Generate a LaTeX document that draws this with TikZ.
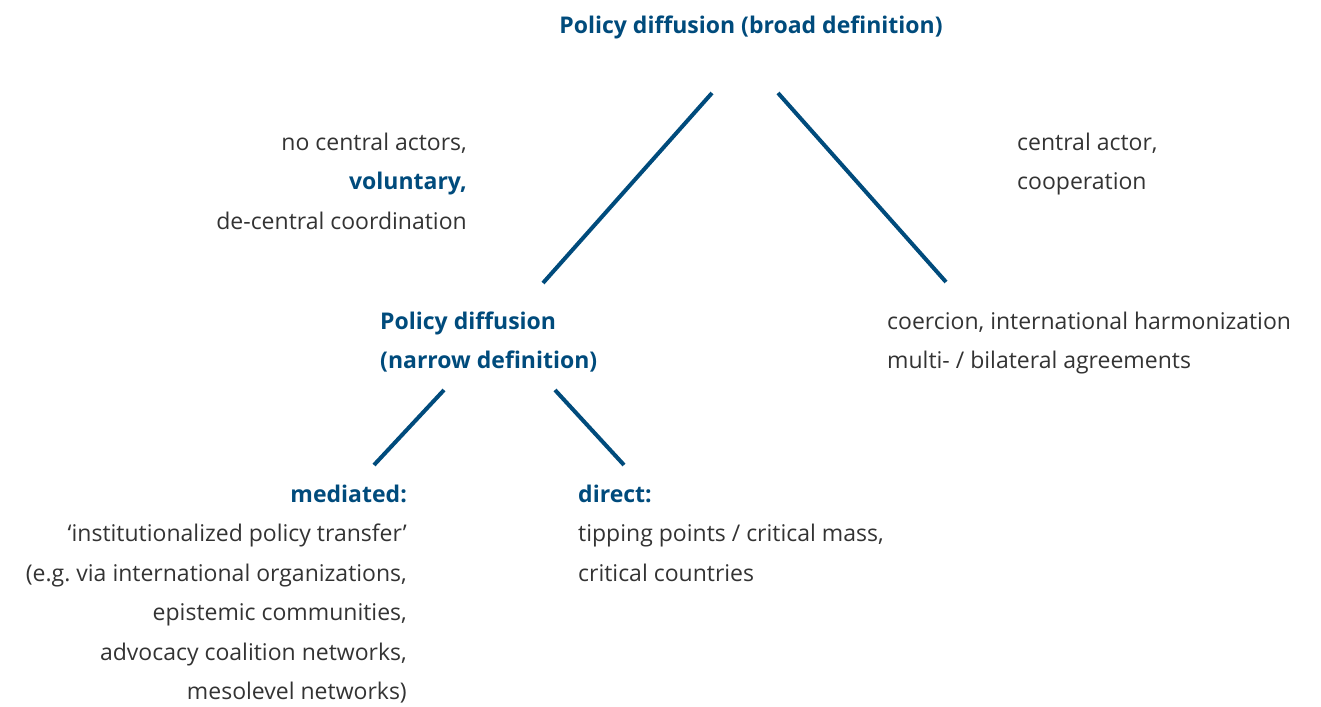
\documentclass[tikz,border=0pt]{standalone}
\usepackage{fontspec}
\setmainfont{Open Sans}
\usetikzlibrary{positioning}
\definecolor{bundblue}{HTML}{004B7C}
\definecolor{textgray}{HTML}{333333}

\begin{document}
\begin{tikzpicture}[
  x=1pt, y=-1pt,
  txt/.style={
    inner sep=0pt,
    text=textgray,
    font=\fontsize{23}{39.5}\selectfont
  },
  head/.style={
    txt,
    text=bundblue,
    font=\fontsize{23}{39.5}\selectfont\bfseries
  },
  branch/.style={
    draw=bundblue,
    line width=4pt
  }
]
\useasboundingbox (0,0) rectangle (1321,706);

% Nodes (anchored at the baseline of their last line)
\node[head, anchor=base] (broad) at (751,34) {Policy diffusion (broad definition)};
\node[txt, anchor=base east, align=right] (vol) at (467,229)
  {no central actors,\\ \textcolor{bundblue}{\bfseries voluntary,}\\ de-central coordination};
\node[txt, anchor=base west, align=left] (coop) at (1017,189.5) {central actor,\\ cooperation};
\node[head, anchor=base west, align=left] (narrow) at (380,368.5) {Policy diffusion\\ (narrow definition)};
\node[txt, anchor=base west, align=left] (coerc) at (887,368.5)
  {coercion, international harmonization\\ multi- / bilateral agreements};
\node[txt, anchor=base east, align=right] (med) at (407,699.5)
  {\textcolor{bundblue}{\bfseries mediated:}\\ `institutionalized policy transfer'\\ (e.g.\ via international organizations,\\
   epistemic communities,\\ advocacy coalition networks,\\ mesolevel networks)};
\node[txt, anchor=base west, align=left] (dir) at (578,581)
  {\textcolor{bundblue}{\bfseries direct:}\\ tipping points / critical mass,\\ critical countries};

% Line ends
\coordinate (broadL) at (712,93);
\coordinate (broadR) at (778,93);
\coordinate (narrowT) at (543,283);
\coordinate (coercT) at (946,282);
\coordinate (narrowL) at (444,390);
\coordinate (narrowR) at (555,390);
\coordinate (medT) at (374,465);
\coordinate (dirT) at (624,465);

% Lines
\draw[branch] (broadL) -- (narrowT);
\draw[branch] (broadR) -- (coercT);
\draw[branch] (narrowL) -- (medT);
\draw[branch] (narrowR) -- (dirT);

\end{tikzpicture}
\end{document}
